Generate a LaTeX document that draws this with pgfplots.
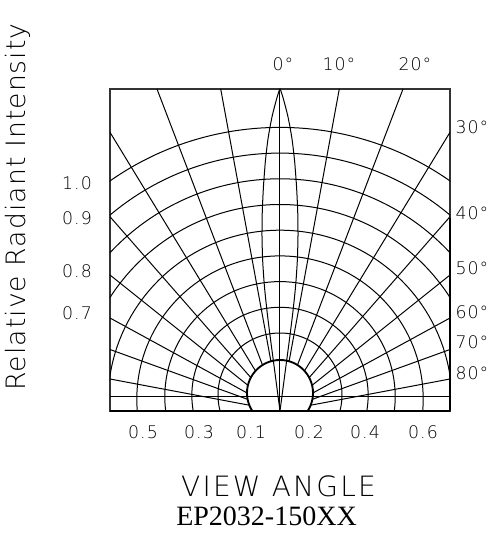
\documentclass[border=0pt]{standalone}
\usepackage{fontspec}
\IfFontExistsTF{DejaVu Sans ExtraLight}{\newfontfamily\cad{DejaVu Sans ExtraLight}}{\newfontfamily\cad{DejaVu Sans}}
\newfontfamily\tnr{Liberation Serif}
\usepackage{pgfplots}
\pgfplotsset{compat=1.18}
\pgfplotstableread{
x y
0 0
3.3 25
6.6 50
9.9 75
13.0 100
15.6 125
17.3 150
18.0 175
17.7 200
16.5 225
14.6 250
12.3 270
10.0 284
7.8 295
5.3 305
3.4 312
1.6 318
0 322
-1.6 318
-3.4 312
-5.3 305
-7.8 295
-10.0 284
-12.3 270
-14.6 250
-16.5 225
-17.7 200
-18.0 175
-17.3 150
-15.6 125
-13.0 100
-9.9 75
-6.6 50
-3.3 25
0 0
}\lobe
\begin{document}
\begin{tikzpicture}
\begin{axis}[
  at={(0,0)}, anchor=south west,
  x=0.75pt, y=0.75pt,
  xmin=-170, xmax=170, ymin=0, ymax=322,
  xtick=\empty, ytick=\empty,
  axis line style={line width=0.8pt, black!80},
  clip=true,
]
% concentric arcs
\foreach \cy/\r in {16/62, 15.55/88.15, 14.2/115.2, 11.92/143.18, 8.75/172.05, 4.67/201.83, -0.31/232.51, -6.2/264.1, -13/296.6}{
  \edef\tmp{\noexpand\draw[line width=0.75pt] (axis cs:0,\cy) circle[radius=\r];}\tmp
}
% radial lines (right / left)
\foreach \xa/\ya/\xb/\yb in {9.1/49.7/59.3/322, 17.5/46.0/123/322, 24.5/40.1/170/278.7, 29.2/33.4/170/194.3, 32.1/25.7/170/136, 33.0/18.1/170/93, 32.4/11.7/170/61.5, 30.7/5.8/170/32}{
  \edef\tmp{\noexpand\draw[line width=0.75pt] (axis cs:\xa,\ya) -- (axis cs:\xb,\yb);
   \noexpand\draw[line width=0.75pt] (axis cs:-\xa,\ya) -- (axis cs:-\xb,\yb);}\tmp
}
\draw[line width=0.75pt] (axis cs:0,0) -- (axis cs:0,322);
\draw[line width=0.75pt] (axis cs:-170,14.5) -- (axis cs:170,14.5);
\draw[line width=1.4pt] (axis cs:0,18) circle[radius=33];
\addplot[black, line width=0.75pt, smooth, tension=0.4] table {\lobe};
\end{axis}
\draw[line width=1.6pt] (0,0) -- (255pt,0);
\draw[line width=1.4pt] (255pt,0) -- (255pt,145pt);
% labels
\begin{scope}[every node/.style={inner sep=0pt, font=\cad\fontsize{13}{15}\selectfont\addfontfeature{LetterSpace=6}}]
\node at (129.75pt,259.9pt) {0°};
\node at (171.75pt,259.9pt) {10°};
\node at (228.75pt,259.9pt) {20°};
\node[anchor=west] at (259pt,213pt) {30°};
\node[anchor=west] at (259pt,148.5pt) {40°};
\node[anchor=west] at (259pt,107.25pt) {50°};
\node[anchor=west] at (259pt,74.25pt) {60°};
\node[anchor=west] at (259pt,51.75pt) {70°};
\node[anchor=west] at (259pt,28.5pt) {80°};
\node at (-24.75pt,171pt) {1.0};
\node at (-24.75pt,144.75pt) {0.9};
\node at (-24.75pt,105pt) {0.8};
\node at (-24.75pt,73.5pt) {0.7};
\node at (24.75pt,-15.75pt) {0.5};
\node at (66.75pt,-15.75pt) {0.3};
\node at (105.75pt,-15.75pt) {0.1};
\node at (149.25pt,-15.75pt) {0.2};
\node at (191.25pt,-15.75pt) {0.4};
\node at (234.75pt,-15.75pt) {0.6};
\end{scope}
\node[inner sep=0pt, rotate=90, font=\cad\fontsize{20}{22}\selectfont\addfontfeature{LetterSpace=4}] at (-69pt,153pt) {Relative Radiant Intensity};
\node[inner sep=0pt, font=\cad\fontsize{21}{24}\selectfont\addfontfeature{LetterSpace=8}] at (126.4pt,-56.6pt) {VIEW ANGLE};
\node[inner sep=0pt, font=\tnr\fontsize{21}{24}\selectfont] at (117.4pt,-79pt) {EP2032-150XX};
\path (-82.5pt,-93.75pt) rectangle (291.75pt,308.25pt);
\end{tikzpicture}
\end{document}
